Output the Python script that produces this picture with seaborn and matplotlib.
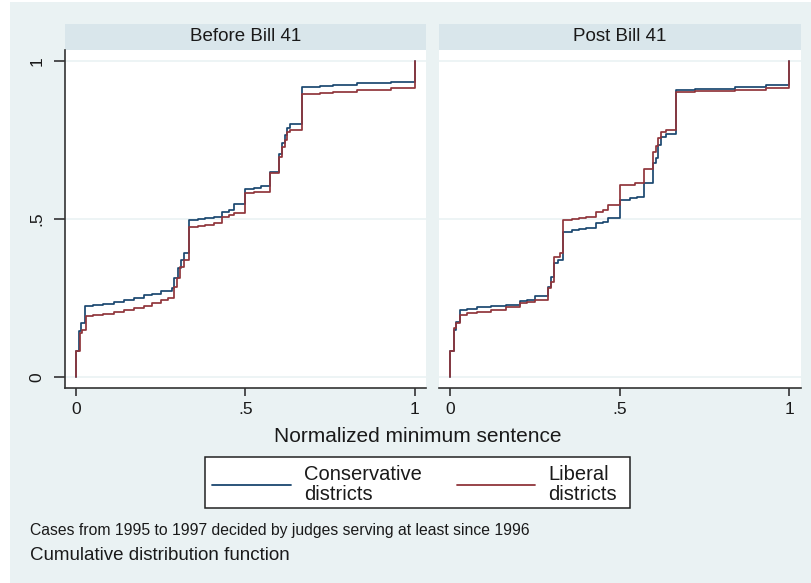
import matplotlib
matplotlib.use("Agg")
import matplotlib.pyplot as plt
from matplotlib.patches import Rectangle
from matplotlib.lines import Line2D
import pandas as pd
import seaborn as sns

# ---- data: empirical CDF step points (x = normalized minimum sentence) ----
panels = ["Before Bill 41", "Post Bill 41"]
groups = ["Conservative\ndistricts", "Liberal\ndistricts"]

before_cons_x = [0.000, 0.000, 0.008, 0.015, 0.025,
                 0.050, 0.080, 0.110, 0.141, 0.170, 0.200, 0.225, 0.249,
                 0.284, 0.290, 0.300, 0.310, 0.318, 0.333,
                 0.360, 0.380, 0.407, 0.431, 0.450, 0.466,
                 0.500, 0.525, 0.545,
                 0.572, 0.599, 0.609, 0.616, 0.624, 0.633,
                 0.666, 0.720, 0.760, 0.830, 0.930, 1.000]
before_cons_y = [0.000, 0.081, 0.144, 0.170, 0.225,
                 0.229, 0.232, 0.237, 0.244, 0.249, 0.258, 0.263, 0.271,
                 0.281, 0.313, 0.344, 0.370, 0.392, 0.497,
                 0.500, 0.503, 0.507, 0.523, 0.530, 0.546,
                 0.596, 0.599, 0.604,
                 0.649, 0.707, 0.739, 0.765, 0.789, 0.800,
                 0.918, 0.921, 0.924, 0.930, 0.934, 1.000]

before_lib_x = [0.000, 0.000, 0.010, 0.018, 0.028,
                0.050, 0.080, 0.110, 0.141, 0.170, 0.200, 0.225, 0.249, 0.270,
                0.289, 0.298, 0.308, 0.318, 0.333,
                0.360, 0.380, 0.407, 0.431, 0.450, 0.466,
                0.500, 0.525, 0.545,
                0.572, 0.599, 0.609, 0.616, 0.624, 0.633,
                0.666, 0.720, 0.760, 0.830, 0.930, 1.000]
before_lib_y = [0.000, 0.081, 0.139, 0.149, 0.192,
                0.196, 0.200, 0.205, 0.213, 0.219, 0.226, 0.234, 0.244, 0.250,
                0.286, 0.313, 0.349, 0.371, 0.476,
                0.479, 0.482, 0.486, 0.507, 0.512, 0.518,
                0.581, 0.584, 0.586,
                0.644, 0.697, 0.728, 0.749, 0.776, 0.783,
                0.897, 0.900, 0.902, 0.907, 0.913, 1.000]

post_cons_x = [0.000, 0.000, 0.010, 0.018, 0.027,
               0.050, 0.080, 0.120, 0.165, 0.204, 0.225, 0.249,
               0.288, 0.298, 0.307, 0.317, 0.332,
               0.360, 0.380, 0.400, 0.430, 0.450, 0.465,
               0.500, 0.530, 0.550,
               0.571, 0.597, 0.605, 0.612, 0.622, 0.637,
               0.664, 0.720, 0.760, 0.838, 0.930, 1.000]
post_cons_y = [0.000, 0.081, 0.149, 0.175, 0.213,
               0.216, 0.220, 0.224, 0.228, 0.239, 0.243, 0.255,
               0.286, 0.318, 0.360, 0.371, 0.460,
               0.464, 0.467, 0.470, 0.486, 0.492, 0.502,
               0.560, 0.565, 0.570,
               0.613, 0.676, 0.692, 0.734, 0.760, 0.770,
               0.907, 0.910, 0.912, 0.918, 0.923, 1.000]

post_lib_x = [0.000, 0.000, 0.010, 0.018, 0.027,
              0.050, 0.080, 0.120, 0.165, 0.204, 0.225, 0.249,
              0.288, 0.298, 0.307, 0.322, 0.332,
              0.360, 0.380, 0.400, 0.430, 0.450, 0.465,
              0.500, 0.545,
              0.571, 0.597, 0.605, 0.612, 0.622, 0.637,
              0.664, 0.720, 0.760, 0.838, 0.930, 1.000]
post_lib_y = [0.000, 0.081, 0.155, 0.172, 0.197,
              0.201, 0.205, 0.212, 0.221, 0.234, 0.238, 0.244,
              0.281, 0.300, 0.381, 0.392, 0.497,
              0.501, 0.504, 0.507, 0.523, 0.530, 0.544,
              0.607, 0.613,
              0.658, 0.713, 0.730, 0.755, 0.776, 0.781,
              0.902, 0.904, 0.905, 0.907, 0.913, 1.000]

tick_vals = [0, 0.5, 1]
tick_labels = ["0", ".5", "1"]

series = {
    panels[0]: [(groups[0], before_cons_x, before_cons_y), (groups[1], before_lib_x, before_lib_y)],
    panels[1]: [(groups[0], post_cons_x, post_cons_y), (groups[1], post_lib_x, post_lib_y)],
}

# ---- styling ----
BG = "#EAF2F3"
BAND = "#D9E6EB"
GRID = "#EAF2F3"
AXIS = "#333333"
TXT = "#1a1a1a"
palette = {groups[0]: "#1a476f", groups[1]: "#90353b"}

sns.set_theme(style="white")
plt.rcParams["font.family"] = ["Liberation Sans", "DejaVu Sans"]

W, H = 811, 583
fig = plt.figure(figsize=(W / 100, H / 100), dpi=100)
fig.patch.set_facecolor("white")


def fx(px):
    return px / W


def fy(py):
    return 1 - py / H


# outer graph region
fig.patches.append(Rectangle((fx(10), 0), 1 - fx(10), fy(2), transform=fig.transFigure,
                             facecolor=BG, edgecolor="none", zorder=-5))

panel_px = [(65, 426), (439, 801)]
top_px, bot_px = 50, 388

for i, (name, (x0, x1)) in enumerate(zip(panels, panel_px)):
    ax = fig.add_axes([fx(x0), fy(bot_px), fx(x1) - fx(x0), fy(top_px) - fy(bot_px)])
    ax.set_zorder(2)
    ax.set_facecolor("white")

    frames = [pd.DataFrame({"x": xs, "cdf": ys, "group": g}) for g, xs, ys in series[name]]
    df = pd.concat(frames, ignore_index=True)

    for v in tick_vals:
        ax.axhline(v, color=GRID, lw=1.2, zorder=0)

    sns.lineplot(data=df, x="x", y="cdf", hue="group", hue_order=groups, palette=palette,
                 estimator=None, sort=False, drawstyle="steps-post", lw=1.25,
                 legend=False, ax=ax)

    ax.set_xlim(-0.0335, 1.034)
    ax.set_ylim(-0.0348, 1.0348)
    ax.set_xlabel("")
    ax.set_ylabel("")

    for s in ["top", "right"]:
        ax.spines[s].set_visible(False)
    ax.spines["bottom"].set_color(AXIS)
    ax.spines["bottom"].set_linewidth(1.2)
    if i == 0:
        ax.spines["left"].set_color(AXIS)
        ax.spines["left"].set_linewidth(1.2)
    else:
        ax.spines["left"].set_visible(False)

    ax.set_xticks(tick_vals)
    ax.set_xticklabels(tick_labels, fontsize=12.5, color=TXT)
    ax.tick_params(axis="x", bottom=True, direction="out", length=6, width=1.2,
                   color=AXIS, pad=4)
    if i == 0:
        ax.set_yticks(tick_vals)
        ax.set_yticklabels(tick_labels, fontsize=12.5, color=TXT, rotation=90, va="center")
        ax.tick_params(axis="y", left=True, direction="out", length=8, width=1.2,
                       color=AXIS, pad=7)
    else:
        ax.set_yticks([])
    ax.grid(False)

    # panel title band
    fig.patches.append(Rectangle((fx(x0), fy(top_px)), fx(x1) - fx(x0), fy(24) - fy(top_px),
                                 transform=fig.transFigure, facecolor=BAND,
                                 edgecolor="none", zorder=1))
    fig.text(fx((x0 + x1) / 2), fy(36.5), name, ha="center", va="center",
             fontsize=13.5, color=TXT, zorder=3)

# shared x-axis title
fig.text(fx(418), fy(436), "Normalized minimum sentence", ha="center", va="center",
         fontsize=15, color=TXT)

# legend box
fig.patches.append(Rectangle((fx(205), fy(508)), fx(630) - fx(205), fy(457) - fy(508),
                             transform=fig.transFigure, facecolor="white",
                             edgecolor="#222222", lw=1.1, zorder=2))
legend_items = [(groups[0], 212, 291, 304), (groups[1], 457, 535, 548)]
for g, l0, l1, tx in legend_items:
    fig.lines.append(Line2D([fx(l0), fx(l1)], [fy(485), fy(485)], transform=fig.transFigure,
                            color=palette[g], lw=1.3, zorder=3))
    fig.text(fx(tx), fy(484.5), g, ha="left", va="center", fontsize=14.5, color=TXT,
             linespacing=1.08, zorder=3)

# notes
fig.text(fx(30), fy(530), "Cases from 1995 to 1997 decided by judges serving at least since 1996",
         ha="left", va="center", fontsize=11.3, color=TXT)
fig.text(fx(30), fy(556), "Cumulative distribution function", ha="left", va="center",
         fontsize=13.5, color=TXT)

fig.savefig("out.png", dpi=100, facecolor=fig.get_facecolor())
